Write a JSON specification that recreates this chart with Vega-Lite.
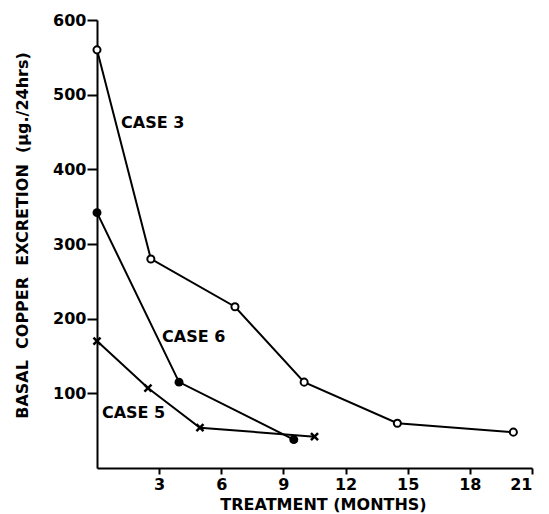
{
  "$schema": "https://vega.github.io/schema/vega-lite/v6.json",
  "width": 435,
  "height": 448,
  "autosize": {"type": "none"},
  "padding": {"left": 97, "top": 20, "right": 17, "bottom": 46},
  "background": "white",
  "config": {
    "view": {"stroke": null},
    "axis": {
      "grid": false,
      "domainColor": "black",
      "domainWidth": 2,
      "tickColor": "black",
      "tickWidth": 2,
      "labelFont": "DejaVu Sans",
      "labelFontWeight": "bold",
      "labelFontSize": 16,
      "labelColor": "black",
      "titleFont": "DejaVu Sans",
      "titleFontWeight": "bold",
      "titleFontSize": 16,
      "titleColor": "black"
    }
  },
  "datasets": {
    "pts": [
      {"case": "3", "month": 0, "cu": 560},
      {"case": "3", "month": 2.6, "cu": 280},
      {"case": "3", "month": 6.66, "cu": 216},
      {"case": "3", "month": 10.0, "cu": 115},
      {"case": "3", "month": 14.5, "cu": 60},
      {"case": "3", "month": 20.1, "cu": 48},
      {"case": "6", "month": 0, "cu": 342},
      {"case": "6", "month": 3.96, "cu": 115},
      {"case": "6", "month": 9.5, "cu": 38},
      {"case": "5", "month": 0, "cu": 170},
      {"case": "5", "month": 2.46, "cu": 107},
      {"case": "5", "month": 4.97, "cu": 54},
      {"case": "5", "month": 10.5, "cu": 42}
    ],
    "labels": [
      {"text": "CASE 3", "month": 1.16, "cu": 462},
      {"text": "CASE 6", "month": 3.14, "cu": 176},
      {"text": "CASE 5", "month": 0.24, "cu": 74}
    ]
  },
  "encoding": {
    "x": {
      "field": "month",
      "type": "quantitative",
      "scale": {"domain": [0, 21], "nice": false, "zero": false},
      "axis": {
        "values": [3, 6, 9, 12, 15, 18, 21],
        "tickSize": 6,
        "labelPadding": 2,
        "title": "TREATMENT (MONTHS)",
        "titleX": 226,
        "titleY": 41,
        "titleAlign": "center",
        "titleBaseline": "alphabetic"
      }
    },
    "y": {
      "field": "cu",
      "type": "quantitative",
      "scale": {"domain": [0, 600], "nice": false},
      "axis": {
        "values": [100, 200, 300, 400, 500, 600],
        "tickSize": 10,
        "labelPadding": 1,
        "title": "BASAL\u00a0\u00a0COPPER\u00a0\u00a0EXCRETION\u00a0\u00a0(\u00b5g./24hrs)",
        "titleX": -70,
        "titleY": 215,
        "titleAlign": "center",
        "titleBaseline": "alphabetic",
        "titleAngle": 270
      }
    }
  },
  "layer": [
    {
      "data": {"name": "pts"},
      "mark": {"type": "line", "color": "black", "strokeWidth": 2},
      "encoding": {"detail": {"field": "case", "type": "nominal"}}
    },
    {
      "data": {"name": "pts"},
      "transform": [{"filter": "datum.case === '3'"}],
      "mark": {"type": "point", "shape": "circle", "size": 50, "filled": true, "fill": "white", "stroke": "black", "strokeWidth": 2, "opacity": 1}
    },
    {
      "data": {"name": "pts"},
      "transform": [{"filter": "datum.case === '6'"}],
      "mark": {"type": "point", "shape": "circle", "size": 80, "filled": true, "color": "black", "opacity": 1}
    },
    {
      "data": {"name": "pts"},
      "transform": [{"filter": "datum.case === '5'"}],
      "mark": {"type": "point", "shape": "M-1,-1L1,1M1,-1L-1,1", "size": 50, "filled": false, "stroke": "black", "strokeWidth": 2.5, "opacity": 1}
    },
    {
      "data": {"name": "labels"},
      "mark": {"type": "text", "align": "left", "baseline": "middle", "font": "DejaVu Sans", "fontWeight": "bold", "fontSize": 16, "color": "black"},
      "encoding": {"text": {"field": "text", "type": "nominal"}}
    }
  ]
}
